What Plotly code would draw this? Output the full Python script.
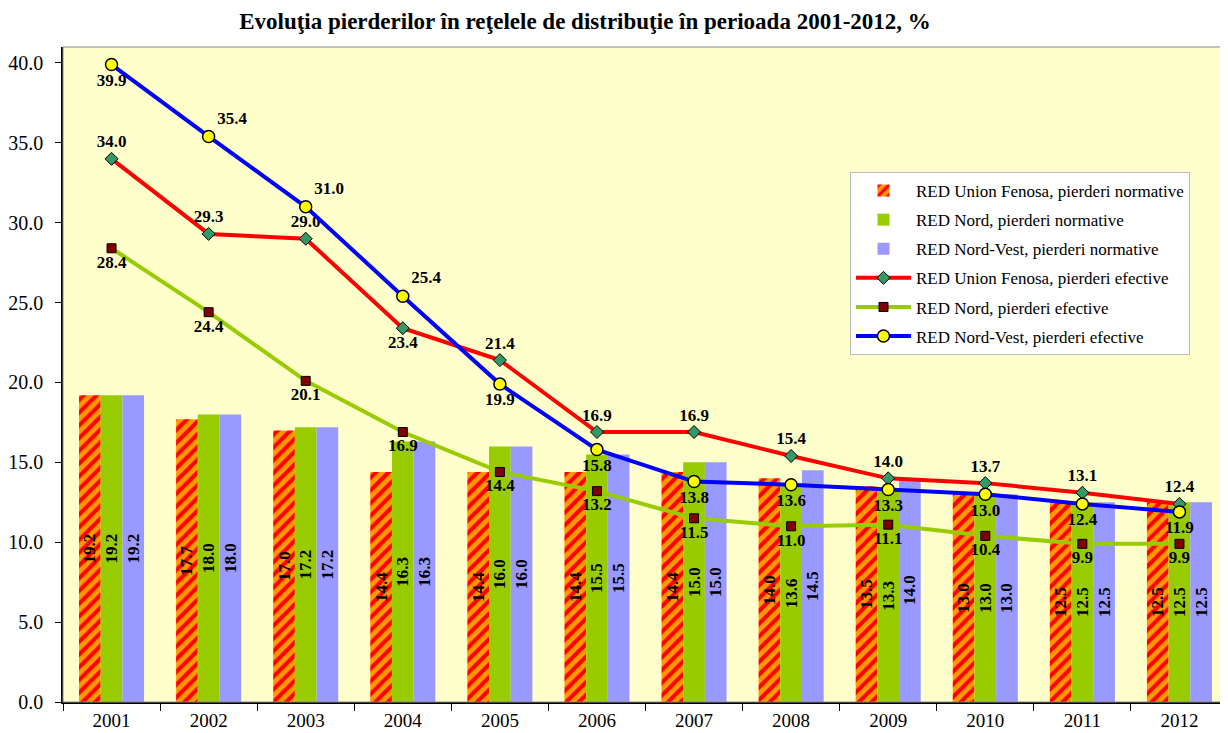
import plotly.graph_objects as go

years = ["2001", "2002", "2003", "2004", "2005", "2006", "2007", "2008", "2009", "2010", "2011", "2012"]

uf_norm = [19.2, 17.7, 17.0, 14.4, 14.4, 14.4, 14.4, 14.0, 13.5, 13.0, 12.5, 12.5]
nord_norm = [19.2, 18.0, 17.2, 16.3, 16.0, 15.5, 15.0, 13.6, 13.3, 13.0, 12.5, 12.5]
nv_norm = [19.2, 18.0, 17.2, 16.3, 16.0, 15.5, 15.0, 14.5, 14.0, 13.0, 12.5, 12.5]

uf_ef = [34.0, 29.3, 29.0, 23.4, 21.4, 16.9, 16.9, 15.4, 14.0, 13.7, 13.1, 12.4]
nord_ef = [28.4, 24.4, 20.1, 16.9, 14.4, 13.2, 11.5, 11.0, 11.1, 10.4, 9.9, 9.9]
nv_ef = [39.9, 35.4, 31.0, 25.4, 19.9, 15.8, 13.8, 13.6, 13.3, 13.0, 12.4, 11.9]

uf_pos = ["top center"] * 3 + ["bottom center"] + ["top center"] * 8
nord_pos = ["bottom center"] * 12
nv_pos = ["bottom center", "top right", "top right", "top right"] + ["bottom center"] * 8

FONT = "Liberation Serif"
bar_text_font = dict(family=FONT, size=17, color="black", weight="bold")

# page body adds an 8px offset; figure is sized to compensate
W, H = 1220, 725
L, T, B = 55, 39, 31

fig = go.Figure()

fig.add_trace(go.Bar(
    x=years, y=uf_norm, name="RED Union Fenosa, pierderi normative", legendgroup="a",
    marker=dict(color="#FF9900", line=dict(width=0),
                pattern=dict(shape="/", bgcolor="#FF9900", fgcolor="#FF0000",
                             size=9, solidity=0.45, fillmode="replace")),
    texttemplate="%{y:.1f}", textposition="inside", insidetextanchor="middle",
    textangle=-90, textfont=bar_text_font, constraintext="none",
))
fig.add_trace(go.Bar(
    x=years, y=nord_norm, name="RED Nord, pierderi normative", legendgroup="b",
    marker=dict(color="#99CC00", line=dict(width=0)),
    texttemplate="%{y:.1f}", textposition="inside", insidetextanchor="middle",
    textangle=-90, textfont=bar_text_font, constraintext="none",
))
fig.add_trace(go.Bar(
    x=years, y=nv_norm, name="RED Nord-Vest, pierderi normative", legendgroup="c",
    marker=dict(color="#9999FF", line=dict(width=0)),
    texttemplate="%{y:.1f}", textposition="inside", insidetextanchor="middle",
    textangle=-90, textfont=bar_text_font, constraintext="none",
))

line_text_font = dict(family=FONT, size=17, color="black", weight="bold")

fig.add_trace(go.Scatter(
    x=years, y=uf_ef, name="RED Union Fenosa, pierderi efective", legendgroup="d",
    mode="lines+markers+text",
    line=dict(color="#FF0000", width=4),
    marker=dict(symbol="diamond", size=10, color="#339966", line=dict(color="black", width=1)),
    text=[f"{v:.1f}" for v in uf_ef], textposition=uf_pos, textfont=line_text_font,
))
fig.add_trace(go.Scatter(
    x=years, y=nord_ef, name="RED Nord, pierderi efective", legendgroup="e",
    mode="lines+markers+text",
    line=dict(color="#99CC00", width=4),
    marker=dict(symbol="square", size=9, color="#800000", line=dict(color="black", width=1)),
    text=[f"{v:.1f}" for v in nord_ef], textposition=nord_pos, textfont=line_text_font,
))
fig.add_trace(go.Scatter(
    x=years, y=nv_ef, name="RED Nord-Vest, pierderi efective", legendgroup="f",
    mode="lines+markers+text",
    line=dict(color="#0000FF", width=4),
    marker=dict(symbol="circle", size=12, color="#FFFF00", line=dict(color="black", width=1.5)),
    text=[f"{v:.1f}" for v in nv_ef], textposition=nv_pos, textfont=line_text_font,
))

plot_w = W - L
plot_h = H - T - B

fig.update_layout(
    width=W, height=H,
    margin=dict(l=L, r=0, t=T, b=B, autoexpand=False),
    paper_bgcolor="white",
    plot_bgcolor="#FFFFCC",
    barmode="group",
    bargap=0.33,
    bargroupgap=0,
    font=dict(family=FONT, size=17, color="black"),
    title=dict(
        text="<b>Evoluţia pierderilor în reţelele de distribuţie în perioada 2001-2012, %</b>",
        x=(585 - 8) / W, xanchor="center", y=1 - 13 / H, yanchor="middle",
        font=dict(family=FONT, size=23, color="black"),
    ),
    legend=dict(
        x=(850 - 8 - L) / plot_w, y=(694 - 164) / plot_h, xanchor="left", yanchor="top",
        xref="paper", yref="paper",
        bgcolor="white", bordercolor="#BBBBBB", borderwidth=1,
        font=dict(family=FONT, size=17, color="black"),
        tracegroupgap=4, itemwidth=55,
    ),
    xaxis=dict(
        range=[-0.5, 11.5], autorange=False,
        showline=True, linecolor="black", linewidth=1.5,
        ticks="outside", tickson="boundaries", ticklen=7, tickcolor="black",
        showgrid=False, tickfont=dict(family=FONT, size=19), automargin=False,
    ),
    yaxis=dict(
        range=[0, 41], dtick=5, tickformat=".1f",
        showline=True, linecolor="black", linewidth=1.5,
        ticks="outside", ticklen=6, tickcolor="black", ticklabelstandoff=8,
        showgrid=False, zeroline=False, tickfont=dict(family=FONT, size=20), automargin=False,
    ),
    shapes=[dict(type="rect", xref="paper", yref="paper", x0=0, y0=0, x1=1, y1=1,
                 line=dict(color="#888888", width=1), layer="above")],
)

fig.write_html("out.html")
